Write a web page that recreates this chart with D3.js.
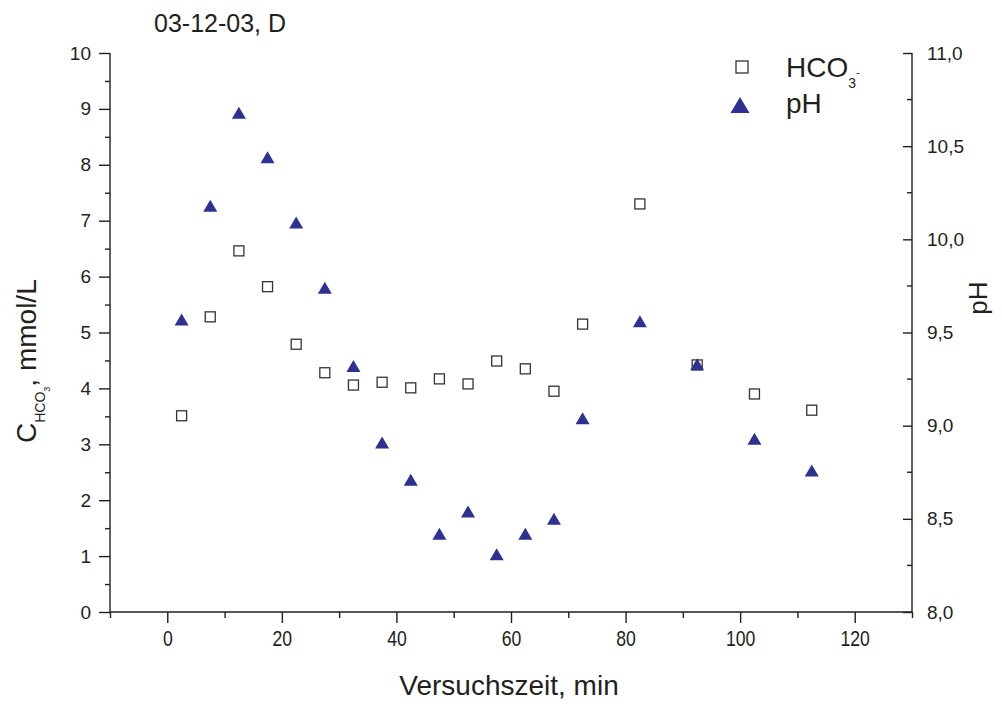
<!DOCTYPE html>
<html>
<head>
<meta charset="utf-8">
<script src="https://cdn.jsdelivr.net/npm/d3@7"></script>
<style>
  html, body { margin: 0; padding: 0; background: #fff; }
  svg { display: block; font-family: "Liberation Sans", Arial, sans-serif; }
</style>
</head>
<body>
<svg id="chart" width="1002" height="704"></svg>
<script>
// Sampling times (min)
const timesHCO3 = [2.5, 7.5, 12.5, 17.5, 22.5, 27.5, 32.5, 37.5, 42.5, 47.5, 52.5, 57.5, 62.5, 67.5, 72.5, 82.5, 92.5, 102.5, 112.5];
const timesPH   = [2.5, 7.5, 12.5, 17.5, 22.5, 27.5, 32.5, 37.5, 42.5, 47.5, 52.5, 57.5, 62.5, 67.5, 72.5, 82.5, 92.5, 102.5, 112.5];
// Bicarbonate concentration (mmol/L)
const hco3Values = [3.51, 5.28, 6.46, 5.82, 4.79, 4.28, 4.06, 4.11, 4.01, 4.17, 4.08, 4.49, 4.35, 3.95, 5.15, 7.30, 4.42, 3.90, 3.61];
// pH
const phValues = [9.57, 10.18, 10.68, 10.44, 10.09, 9.74, 9.32, 8.91, 8.71, 8.42, 8.54, 8.31, 8.42, 8.50, 9.04, 9.56, 9.33, 8.93, 8.76];

// Axis ticks
const xMajorTicks = [0, 20, 40, 60, 80, 100, 120];
const xMinorTicks = [-10, 10, 30, 50, 70, 90, 110, 130];
const yLeftMajor = [0, 1, 2, 3, 4, 5, 6, 7, 8, 9, 10];
const yLeftMinor = [0.5, 1.5, 2.5, 3.5, 4.5, 5.5, 6.5, 7.5, 8.5, 9.5];
const yRightMajor = [8.0, 8.5, 9.0, 9.5, 10.0, 10.5, 11.0];
const yRightMinor = [8.25, 8.75, 9.25, 9.75, 10.25, 10.75];

const svg = d3.select("#chart");
const plotL = 110, plotR = 912, plotT = 53, plotB = 612;

const x = d3.scaleLinear().domain([-10, 130]).range([plotL, plotR]);
const yL = d3.scaleLinear().domain([0, 10]).range([plotB, plotT]);
const yR = d3.scaleLinear().domain([8, 11]).range([plotB, plotT]);

const triColor = "#2e3192";
const sqStroke = "#333";
const ink = "#231f20";
const font = "Liberation Sans, Arial, sans-serif";

// Bottom axis: major ticks with labels, minor ticks without
const gx = svg.append("g").attr("transform", `translate(0,${plotB})`);
gx.call(d3.axisBottom(x).tickValues(xMajorTicks).tickSize(11).tickPadding(7).tickFormat(d3.format("d")));
gx.append("g").call(d3.axisBottom(x).tickValues(xMinorTicks).tickSize(6).tickFormat(""))
  .select(".domain").remove();
gx.selectAll("text").attr("font-size", 22).attr("fill", ink).attr("font-family", font)
  .attr("transform", "scale(0.8,1)");
gx.select(".domain").attr("d", `M${plotL},0H${plotR}`);

// Left axis
const gl = svg.append("g").attr("transform", `translate(${plotL},0)`);
gl.call(d3.axisLeft(yL).tickValues(yLeftMajor).tickSize(11).tickPadding(8).tickFormat(d3.format("d")));
gl.append("g").call(d3.axisLeft(yL).tickValues(yLeftMinor).tickSize(5).tickFormat(""))
  .select(".domain").remove();
gl.selectAll("text").attr("font-size", 19).attr("fill", ink).attr("font-family", font);
gl.select(".domain").attr("d", `M0,${plotT}V${plotB}`);

// Right axis: ticks point inward, labels outside
const gr = svg.append("g").attr("transform", `translate(${plotR},0)`);
const fmtComma = d => d3.format(".1f")(d).replace(".", ",");
gr.call(d3.axisRight(yR).tickValues(yRightMajor).tickSize(0).tickPadding(15).tickFormat(fmtComma));
gr.selectAll(".tick line").attr("x2", -9);
gr.append("g").selectAll("line").data(yRightMinor).join("line")
  .attr("x1", 0).attr("x2", -5).attr("y1", d => yR(d)).attr("y2", d => yR(d))
  .attr("stroke", ink);
gr.selectAll("text").attr("font-size", 19).attr("fill", ink).attr("font-family", font);
gr.select(".domain").attr("d", `M0,${plotT}V${plotB}`);

svg.selectAll(".domain, .tick line").attr("stroke", ink).attr("stroke-width", 1.4);
svg.selectAll("g line").attr("stroke-width", 1.4);

// Triangle marker
const triPath = (w, h) => `M0,${-h / 2}L${w / 2},${h / 2}L${-w / 2},${h / 2}Z`;

// Data: HCO3- squares
svg.append("g").selectAll("rect").data(timesHCO3.map((t, i) => [t, hco3Values[i]])).join("rect")
  .attr("x", d => x(d[0]) - 5).attr("y", d => yL(d[1]) - 5)
  .attr("width", 10).attr("height", 10)
  .attr("fill", "none").attr("stroke", sqStroke).attr("stroke-width", 1.3);

// Data: pH triangles
svg.append("g").selectAll("path").data(timesPH.map((t, i) => [t, phValues[i]])).join("path")
  .attr("transform", d => `translate(${x(d[0])},${yR(d[1])})`)
  .attr("d", triPath(14, 12))
  .attr("fill", triColor);

// Title
svg.append("text").attr("x", 154).attr("y", 32).attr("font-size", 25).attr("fill", ink)
  .text("03-12-03, D");

// X axis title
svg.append("text").attr("x", 509).attr("y", 695).attr("text-anchor", "middle")
  .attr("font-size", 28).attr("fill", ink).text("Versuchszeit, min");

// Left axis title with subscripts
const ylab = svg.append("text").attr("transform", "translate(36,443) rotate(-90)")
  .attr("fill", ink);
ylab.append("tspan").attr("font-size", 28).text("C");
ylab.append("tspan").attr("font-size", 14).attr("dy", 9).text("HCO");
ylab.append("tspan").attr("font-size", 9).attr("dy", 5).text("3");
ylab.append("tspan").attr("font-size", 28).attr("dy", -14).text(", mmol/L");

// Right axis title
svg.append("text").attr("transform", "translate(987,298) rotate(-90)").attr("text-anchor", "middle")
  .attr("font-size", 26).attr("fill", ink).text("pH");

// Legend
const lg = svg.append("g");
lg.append("rect").attr("x", 736).attr("y", 61).attr("width", 12).attr("height", 12)
  .attr("fill", "none").attr("stroke", sqStroke).attr("stroke-width", 1.3);
const lt = lg.append("text").attr("x", 786).attr("y", 77).attr("fill", ink);
lt.append("tspan").attr("font-size", 28).text("HCO");
lt.append("tspan").attr("font-size", 14).attr("dy", 11).text("3");
lt.append("tspan").attr("font-size", 11).attr("dy", -12).text("-");
lg.append("path").attr("transform", "translate(740,105)").attr("d", triPath(19, 16)).attr("fill", triColor);
lg.append("text").attr("x", 786).attr("y", 113).attr("font-size", 28).attr("fill", ink).text("pH");
</script>
</body>
</html>
